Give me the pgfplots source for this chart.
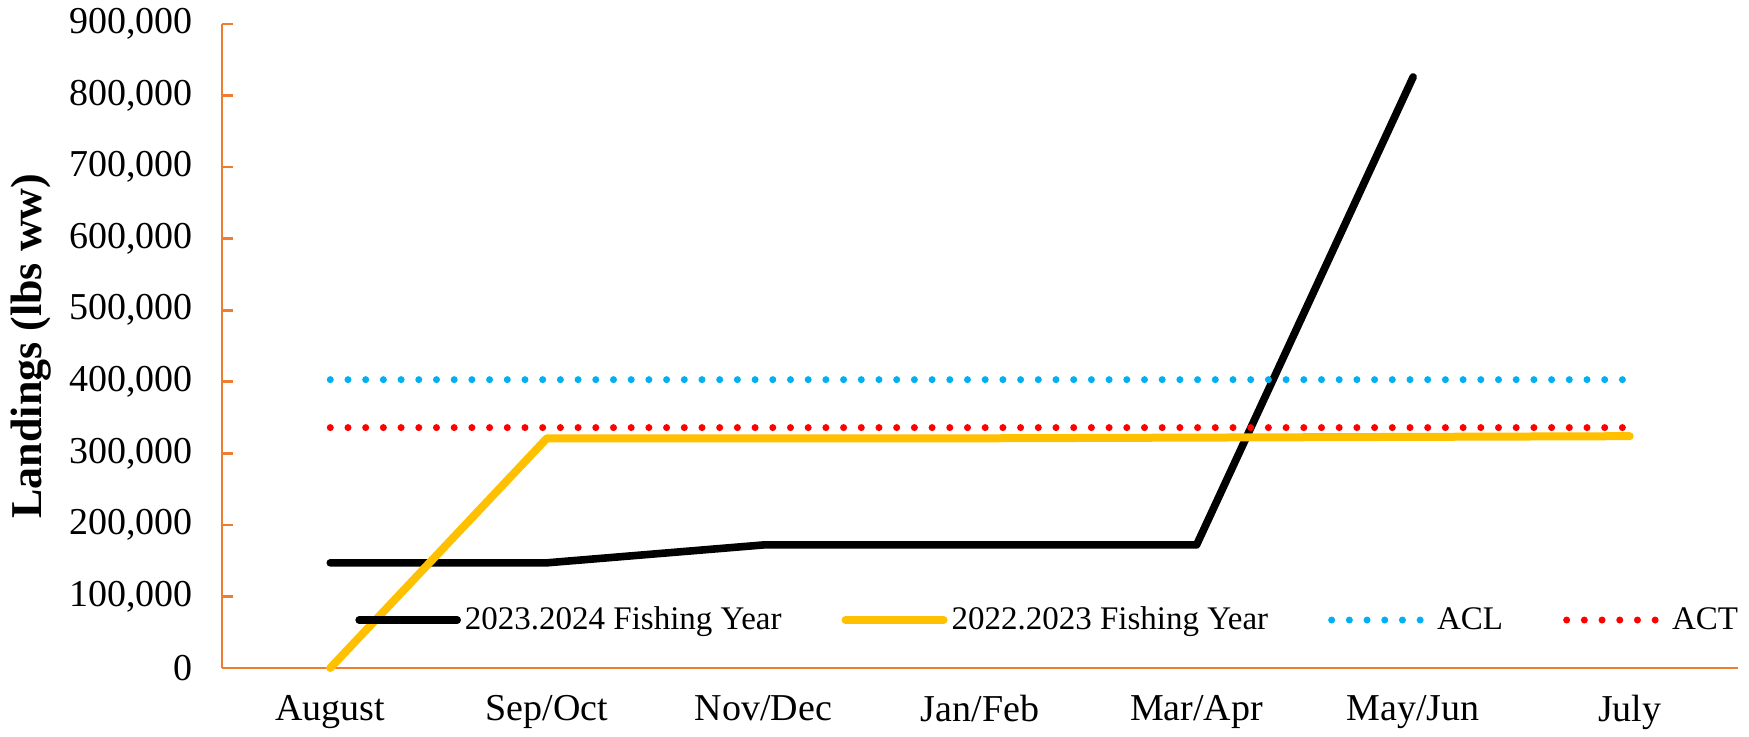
\documentclass[border=0pt]{standalone}
\usepackage{fontspec}
\setmainfont{Liberation Serif}
\usepackage{pgfplots}
\pgfplotsset{compat=1.18}
\definecolor{axisor}{HTML}{ED7D31}
\definecolor{gold}{HTML}{FFC000}
\definecolor{acl}{HTML}{00B0F0}
\definecolor{act}{HTML}{FF0000}
\begin{document}
\begin{tikzpicture}
\path[use as bounding box] (-111pt,-34pt) rectangle (763.5pt,334pt);
\begin{axis}[
  at={(0,0)}, anchor=south west,
  width=758pt, height=322pt, scale only axis,
  xmin=-0.5, xmax=6.5,
  ymin=0, ymax=900000,
  axis lines=left,
  axis line style={draw=axisor, line width=1.3pt, -},
  tick align=inside,
  major tick length=5.5pt,
  xtick={0,...,6},
  xticklabels={August,Sep/Oct,Nov/Dec,Jan/Feb,Mar/Apr,May/Jun,July},
  x tick style={draw=none},
  extra x ticks={0.5,1.5,2.5,3.5,4.5,5.5,6.5},
  extra x tick labels={},
  extra x tick style={tick style={draw=axisor, line width=1.3pt}, major tick length=5.5pt},
  ytick distance=100000,
  y tick style={draw=axisor, line width=1.3pt},
  scaled y ticks=false,
  /pgf/number format/assume math mode=true,
  /pgf/number format/fixed,
  /pgf/number format/1000 sep={,},
  yticklabel style={font=\fontsize{19pt}{22pt}\selectfont, xshift=-11pt},
  xticklabel style={font=\fontsize{19pt}{22pt}\selectfont, yshift=-10pt},
  ylabel={\textbf{Landings (lbs ww)}},
  ylabel style={font=\fontsize{22pt}{26pt}\selectfont, yshift=2pt},
  legend style={at={(0.0877,0.0745)}, anchor=west, draw=none, fill=none,
    inner xsep=0pt, inner ysep=0pt,
    legend columns=4, font=\fontsize{16.5pt}{19pt}\selectfont,
    nodes={inner xsep=2pt},
    /tikz/every even column/.append style={column sep=28pt}},
  legend cell align=left,
  legend image code/.code={\draw[#1] (0pt,0pt) -- (49pt,0pt);},
  clip=false,
]
\addplot[black, line width=3.8pt, line join=round, line cap=round] coordinates {
  (0,147000) (1,147000) (2,172000) (3,172000) (4,172000) (5,826000)
};
\addlegendentry{2023.2024 Fishing Year}
\addplot[gold, line width=4pt, line join=round, line cap=round] coordinates {
  (0,0) (1,321000) (2,321000) (3,321000) (4,322000) (5,323000) (6,324000)
};
\addlegendentry{2022.2023 Fishing Year}
\addplot[acl, line width=3.5pt, line cap=round, dash pattern=on 0pt off 8.85pt] coordinates {
  (0,403000) (6,403000)
};
\addlegendentry{ACL}
\addplot[act, line width=3.5pt, line cap=round, dash pattern=on 0pt off 8.85pt] coordinates {
  (0,336000) (6,336000)
};
\addlegendentry{ACT}
\end{axis}
\end{tikzpicture}
\end{document}
